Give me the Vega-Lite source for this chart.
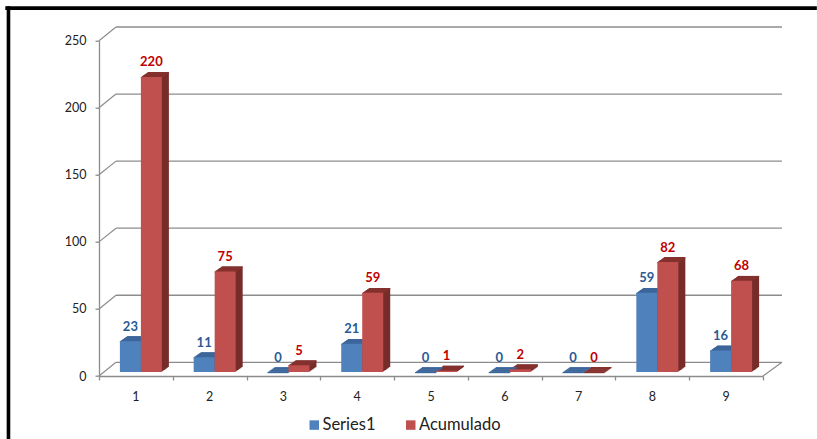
{
"$schema":"https://vega.github.io/schema/vega-lite/v6.json",
"width":664,"height":335.3,"autosize":"none",
"padding":{"left":99,"top":40.7,"right":54,"bottom":63},
"background":"white",
"config":{"view":{"stroke":null},"font":"Lato",
 "axisY":{"grid":false,"domainColor":"#8c8c8c","domainWidth":1.3,"tickColor":"#8c8c8c","tickSize":4,"tickWidth":1.3,"labelPadding":9,"labelFontSize":12.5,"labelColor":"#222222","labelFont":"Lato"}},
"datasets":{"bars":[
{"cat":"1","series":"Series1","value":23},{"cat":"1","series":"Acumulado","value":220},
{"cat":"2","series":"Series1","value":11},{"cat":"2","series":"Acumulado","value":75},
{"cat":"3","series":"Series1","value":0},{"cat":"3","series":"Acumulado","value":5},
{"cat":"4","series":"Series1","value":21},{"cat":"4","series":"Acumulado","value":59},
{"cat":"5","series":"Series1","value":0},{"cat":"5","series":"Acumulado","value":1},
{"cat":"6","series":"Series1","value":0},{"cat":"6","series":"Acumulado","value":2},
{"cat":"7","series":"Series1","value":0},{"cat":"7","series":"Acumulado","value":0},
{"cat":"8","series":"Series1","value":59},{"cat":"8","series":"Acumulado","value":82},
{"cat":"9","series":"Series1","value":16},{"cat":"9","series":"Acumulado","value":68}],
"grid":[{"v":0},{"v":50},{"v":100},{"v":150},{"v":200},{"v":250}]},
"resolve":{"scale":{"x":"independent"},"axis":{"x":"independent"}},
"layer":[
{"layer":[
{"data":{"name":"grid"},"mark":{"type":"rule","color":"#8c8c8c","strokeWidth":1.3,"yOffset":-13.7,"y2Offset":-13.7},
 "encoding":{"x":{"datum":0.23,"type":"quantitative","scale":{"domain":[0,9],"nice":false,"zero":false},
   "axis":{"orient":"bottom","values":[0,1,2,3,4,5,6,7,8,9],"labels":false,"title":null,"grid":false,"domainColor":"#8c8c8c","domainWidth":1.6,"tickColor":"#8c8c8c","tickSize":4,"tickWidth":1.3}},
  "x2":{"datum":9.257},
  "y":{"field":"v","type":"quantitative","scale":{"domain":[0,250],"nice":false},"axis":{"title":null,"values":[0,50,100,150,200,250]}},
  "y2":{"field":"v"}}},
{"data":{"name":"grid"},"mark":{"type":"rule","color":"#8c8c8c","strokeWidth":1.2,"y2Offset":-13.7},
 "encoding":{"x":{"datum":0,"type":"quantitative","scale":{"domain":[0,9],"nice":false,"zero":false},
   "axis":{"orient":"bottom","values":[0,1,2,3,4,5,6,7,8,9],"labels":false,"title":null,"grid":false,"domainColor":"#8c8c8c","domainWidth":1.6,"tickColor":"#8c8c8c","tickSize":4,"tickWidth":1.3}},"x2":{"datum":0.23},
  "y":{"field":"v","type":"quantitative","scale":{"domain":[0,250],"nice":false},"axis":{"title":null,"values":[0,50,100,150,200,250]}},"y2":{"field":"v"}}},
{"data":{"values":[{"v":0}]},"mark":{"type":"rule","color":"#8c8c8c","strokeWidth":1.2,"y2Offset":-13.7},
 "encoding":{"x":{"datum":9,"type":"quantitative","scale":{"domain":[0,9],"nice":false,"zero":false},
   "axis":{"orient":"bottom","values":[0,1,2,3,4,5,6,7,8,9],"labels":false,"title":null,"grid":false,"domainColor":"#8c8c8c","domainWidth":1.6,"tickColor":"#8c8c8c","tickSize":4,"tickWidth":1.3}},"x2":{"datum":9.257},
  "y":{"field":"v","type":"quantitative","scale":{"domain":[0,250],"nice":false},"axis":{"title":null,"values":[0,50,100,150,200,250]}},"y2":{"field":"v"}}},
{"data":{"values":[{"v":274.3}]},"mark":{"type":"rule","color":"black","strokeWidth":3.6},
 "encoding":{"x":{"datum":-1.27,"type":"quantitative","scale":{"domain":[0,9],"nice":false,"zero":false},
   "axis":{"orient":"bottom","values":[0,1,2,3,4,5,6,7,8,9],"labels":false,"title":null,"grid":false,"domainColor":"#8c8c8c","domainWidth":1.6,"tickColor":"#8c8c8c","tickSize":4,"tickWidth":1.3}},"x2":{"datum":9.73},
  "y":{"field":"v","type":"quantitative","scale":{"domain":[0,250],"nice":false},"axis":{"title":null,"values":[0,50,100,150,200,250]}},"y2":{"field":"v"}}},
{"data":{"values":[{"u":-1.227}]},"mark":{"type":"rule","color":"black","strokeWidth":3.6},
 "encoding":{"x":{"field":"u","type":"quantitative","scale":{"domain":[0,9],"nice":false,"zero":false},
   "axis":{"orient":"bottom","values":[0,1,2,3,4,5,6,7,8,9],"labels":false,"title":null,"grid":false,"domainColor":"#8c8c8c","domainWidth":1.6,"tickColor":"#8c8c8c","tickSize":4,"tickWidth":1.3}},
  "y":{"datum":275.6,"type":"quantitative","scale":{"domain":[0,250],"nice":false},"axis":{"title":null,"values":[0,50,100,150,200,250]}},"y2":{"datum":-47}}}
]},
{"data":{"name":"bars"},
 "resolve":{"scale":{"xOffset":"independent"}},
 "encoding":{
  "x":{"field":"cat","type":"nominal","scale":{"type":"band","paddingInner":0.4307,"paddingOuter":0.2154},
    "axis":{"orient":"bottom","title":null,"ticks":false,"domain":false,"labelAngle":0,"labelPadding":14,"labelFontSize":12.5,"labelColor":"#222222","labelFont":"Lato"}},
  "y":{"field":"value","type":"quantitative","scale":{"domain":[0,250],"nice":false},"axis":{"title":null,"values":[0,50,100,150,200,250]}}
 },
 "layer":[
 {"mark":{"type":"rect","yOffset":-4.7,"y2Offset":-4.7},"encoding":{"xOffset":{"field":"series","type":"nominal","scale":{"domain":["Series1","Acumulado"],"range":[6,48]}},"y2":{"datum":0},"color":{"condition":{"test":"datum.series==='Series1'","value":"#35598a"},"value":"#772c2a"}}},
 {"mark":{"type":"rect","yOffset":-5.4,"y2Offset":-5.4},"encoding":{"xOffset":{"field":"series","type":"nominal","scale":{"domain":["Series1","Acumulado"],"range":[7,49]}},"y2":{"datum":0},"color":{"condition":{"test":"datum.series==='Series1'","value":"#35598a"},"value":"#772c2a"}}},
 {"mark":{"type":"rect","yOffset":-6.1,"y2Offset":-6.1},"encoding":{"xOffset":{"field":"series","type":"nominal","scale":{"domain":["Series1","Acumulado"],"range":[8,50]}},"y2":{"datum":0},"color":{"condition":{"test":"datum.series==='Series1'","value":"#35598a"},"value":"#772c2a"}}},
 {"mark":{"type":"rect","yOffset":-6.8,"y2Offset":-6.8},"encoding":{"xOffset":{"field":"series","type":"nominal","scale":{"domain":["Series1","Acumulado"],"range":[9,51]}},"y2":{"datum":0},"color":{"condition":{"test":"datum.series==='Series1'","value":"#35598a"},"value":"#772c2a"}}},
 {"mark":{"type":"rect","yOffset":-7.5,"y2Offset":-7.5},"encoding":{"xOffset":{"field":"series","type":"nominal","scale":{"domain":["Series1","Acumulado"],"range":[10,52]}},"y2":{"datum":0},"color":{"condition":{"test":"datum.series==='Series1'","value":"#35598a"},"value":"#772c2a"}}},
 {"mark":{"type":"rect","yOffset":-8.2,"y2Offset":-8.2},"encoding":{"xOffset":{"field":"series","type":"nominal","scale":{"domain":["Series1","Acumulado"],"range":[11,53]}},"y2":{"datum":0},"color":{"condition":{"test":"datum.series==='Series1'","value":"#35598a"},"value":"#772c2a"}}},
 {"mark":{"type":"rect","yOffset":-8.9,"y2Offset":-8.9},"encoding":{"xOffset":{"field":"series","type":"nominal","scale":{"domain":["Series1","Acumulado"],"range":[12,54]}},"y2":{"datum":0},"color":{"condition":{"test":"datum.series==='Series1'","value":"#35598a"},"value":"#772c2a"}}},

 {"mark":{"type":"rect","yOffset":-4,"y2Offset":-2.8},"encoding":{"xOffset":{"field":"series","type":"nominal","scale":{"domain":["Series1","Acumulado"],"range":[5,47]}},"y2":{"field":"value"},"color":{"condition":{"test":"datum.series==='Series1'","value":"#3d669b"},"value":"#85322f"}}},
 {"mark":{"type":"rect","yOffset":-4.7,"y2Offset":-3.5},"encoding":{"xOffset":{"field":"series","type":"nominal","scale":{"domain":["Series1","Acumulado"],"range":[6,48]}},"y2":{"field":"value"},"color":{"condition":{"test":"datum.series==='Series1'","value":"#3d669b"},"value":"#85322f"}}},
 {"mark":{"type":"rect","yOffset":-5.4,"y2Offset":-4.2},"encoding":{"xOffset":{"field":"series","type":"nominal","scale":{"domain":["Series1","Acumulado"],"range":[7,49]}},"y2":{"field":"value"},"color":{"condition":{"test":"datum.series==='Series1'","value":"#3d669b"},"value":"#85322f"}}},
 {"mark":{"type":"rect","yOffset":-6.1,"y2Offset":-4.9},"encoding":{"xOffset":{"field":"series","type":"nominal","scale":{"domain":["Series1","Acumulado"],"range":[8,50]}},"y2":{"field":"value"},"color":{"condition":{"test":"datum.series==='Series1'","value":"#3d669b"},"value":"#85322f"}}},
 {"mark":{"type":"rect","yOffset":-6.8,"y2Offset":-5.6},"encoding":{"xOffset":{"field":"series","type":"nominal","scale":{"domain":["Series1","Acumulado"],"range":[9,51]}},"y2":{"field":"value"},"color":{"condition":{"test":"datum.series==='Series1'","value":"#3d669b"},"value":"#85322f"}}},
 {"mark":{"type":"rect","yOffset":-7.5,"y2Offset":-6.3},"encoding":{"xOffset":{"field":"series","type":"nominal","scale":{"domain":["Series1","Acumulado"],"range":[10,52]}},"y2":{"field":"value"},"color":{"condition":{"test":"datum.series==='Series1'","value":"#3d669b"},"value":"#85322f"}}},
 {"mark":{"type":"rect","yOffset":-8.2,"y2Offset":-7},"encoding":{"xOffset":{"field":"series","type":"nominal","scale":{"domain":["Series1","Acumulado"],"range":[11,53]}},"y2":{"field":"value"},"color":{"condition":{"test":"datum.series==='Series1'","value":"#3d669b"},"value":"#85322f"}}},
 {"mark":{"type":"rect","yOffset":-8.9,"y2Offset":-7.7},"encoding":{"xOffset":{"field":"series","type":"nominal","scale":{"domain":["Series1","Acumulado"],"range":[12,54]}},"y2":{"field":"value"},"color":{"condition":{"test":"datum.series==='Series1'","value":"#3d669b"},"value":"#85322f"}}},

 {"mark":{"type":"rect","yOffset":-4,"y2Offset":-4},
  "encoding":{"xOffset":{"field":"series","type":"nominal","scale":{"domain":["Series1","Acumulado"],"range":[5,47]}},"y2":{"datum":0},
   "color":{"field":"series","type":"nominal","scale":{"domain":["Series1","Acumulado"],"range":["#4f81bd","#c0504d"]},
    "legend":{"orient":"none","legendX":207,"legendY":376,"direction":"horizontal","columns":2,"title":null,"symbolType":"square","symbolSize":90,"symbolStrokeWidth":0,"labelFontSize":16.5,"labelFont":"Lato","labelColor":"#222222","columnPadding":26.5,"labelOffset":0}}}},
 {"mark":{"type":"text","fontWeight":"bold","fontSize":13,"dy":-14.5,"baseline":"alphabetic","font":"Lato"},
  "encoding":{"xOffset":{"field":"series","type":"nominal","scale":{"domain":["Series1","Acumulado"],"range":[5,47]}},"text":{"field":"value","type":"quantitative"},"color":{"condition":{"test":"datum.series==='Series1'","value":"#2a5a95"},"value":"#c00000"}}}
 ]}
]}
